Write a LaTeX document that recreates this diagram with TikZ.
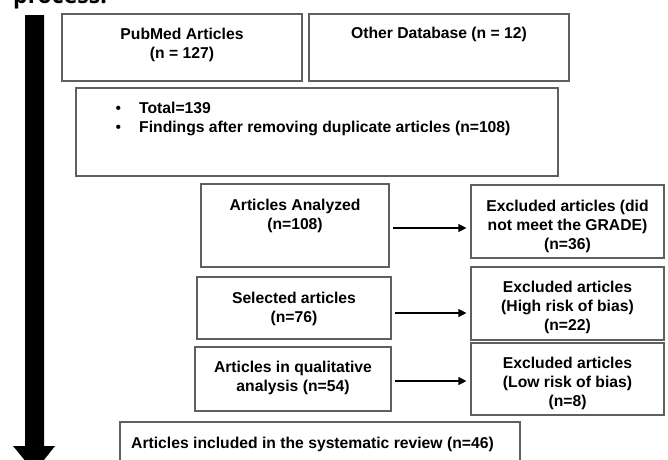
\documentclass[tikz,border=0pt]{standalone}
\usepackage{fontspec}
\setmainfont{Liberation Sans}
\newfontfamily\headfont{Open Sans}
\usetikzlibrary{arrows.meta}
\definecolor{boxgray}{RGB}{95,95,95}
\begin{document}
\begin{tikzpicture}[x=1pt,y=-1pt,
  box/.style={draw=boxgray, line width=1.2pt, inner sep=0pt},
  txt/.style={inner sep=0pt, align=center, font=\bfseries\fontsize{15.7}{19}\selectfont},
  arr/.style={line width=1.3pt, -{Triangle[length=8pt,width=8pt]}},
]
\useasboundingbox (0,0) rectangle (668,459);
\clip (0,0) rectangle (668,459);
% partial heading text
\node[anchor=base west, inner sep=0pt, font=\headfont\bfseries\fontsize{23}{27}\selectfont] (head) at (13,3) {process:};
% timeline arrow
\fill[black] (25,15) -- (44,15) -- (44,446) -- (55,446) -- (34.5,472) -- (13,446) -- (25,446) -- cycle;
% boxes
\node[box, minimum width=240, minimum height=67] (pub) at (182,47.5) {};
\node[box, minimum width=260, minimum height=67] (oth) at (439,47.5) {};
\node[box, minimum width=482, minimum height=88] (tot) at (317,132) {};
\node[box, minimum width=188, minimum height=83] (ana) at (295,225.5) {};
\node[box, minimum width=193, minimum height=73] (ex1) at (567.5,221.5) {};
\node[box, minimum width=194, minimum height=62] (sel) at (294,308) {};
\node[box, minimum width=193, minimum height=73] (ex2) at (567.5,303.5) {};
\node[box, minimum width=196, minimum height=64] (qua) at (293,379) {};
\node[box, minimum width=193, minimum height=72] (ex3) at (567.5,379) {};
\node[box, minimum width=400, minimum height=60] (fin) at (320,452) {};
% texts
\node[txt] (tpub) at (182,44.5) {PubMed Articles\\(n = 127)};
\node[txt] (toth) at (439,34.5) {Other Database (n = 12)};
\node[txt, align=left, anchor=west] (ttot) at (115.3,119) {\makebox[23.7pt][l]{\mdseries •}Total=139\\\makebox[23.7pt][l]{\mdseries •}Findings after removing duplicate articles (n=108)};
\node[txt] (tana) at (295,216) {Articles Analyzed\\(n=108)};
\node[txt] (tex1) at (567.5,226) {Excluded articles (did\\not meet the GRADE)\\(n=36)};
\node[txt] (tsel) at (294,308.5) {Selected articles\\(n=76)};
\node[txt] (tex2) at (567.5,307) {Excluded articles\\(High risk of bias)\\(n=22)};
\node[txt] (tqua) at (293,378) {Articles in qualitative\\analysis (n=54)};
\node[txt] (tex3) at (567.5,383) {Excluded articles\\(Low risk of bias)\\(n=8)};
\node[txt, anchor=west] (tfin) at (131,444.5) {Articles included in the systematic review (n=46)};
% connectors
\draw[arr, shorten <=3pt, shorten >=4pt] (ana.east |- 0,228) -- (ex1.west |- 0,228);
\draw[arr, shorten <=3pt, shorten >=4pt] (sel.east |- 0,313) -- (ex2.west |- 0,313);
\draw[arr, shorten <=3pt, shorten >=4pt] (qua.east |- 0,381) -- (ex3.west |- 0,381);
\end{tikzpicture}
\end{document}
